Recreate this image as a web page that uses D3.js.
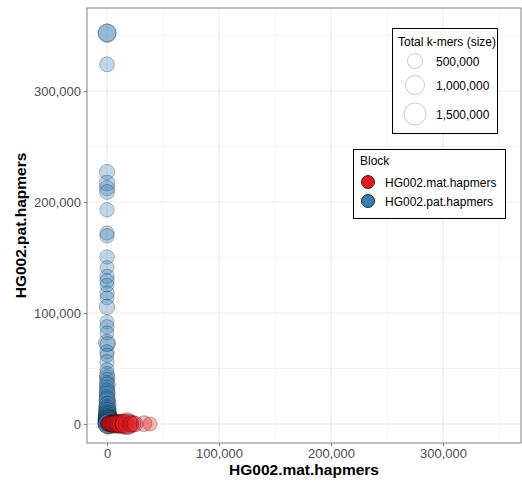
<!DOCTYPE html>
<html><head><meta charset="utf-8">
<script src="https://cdn.jsdelivr.net/npm/d3@7"></script>
<style>body{margin:0;background:#fff;} text{font-family:"Liberation Sans",Arial,sans-serif;}</style>
</head><body><svg id="c" width="522" height="482"></svg>
<script>
// ---- data ----
const blocks = ["HG002.mat.hapmers","HG002.pat.hapmers"];
const blockColors = ["#E41A1C","#377EB8"];
// maternal-block points
const redMat  = [0, 500, 1000, 1500, 2000, 3000, 3500, 4500, 5000, 6000, 7000, 7500, 8500, 9000, 10500, 11000, 12000, 13500, 15000, 16000, 17500, 19000, 21000, 23000, 25000, 33000, 38500];
const redPat  = [0, 300, 600, 800, 200, 300, 700, 500, 100, 200, 400, 0, 600, 300, 0, 400, 200, 100, 300, 0, 300, 0, 0, 100, 0, 300, 0];
const redSize = [250000, 400000, 500000, 500000, 600000, 600000, 700000, 700000, 750000, 800000, 800000, 900000, 850000, 800000, 1000000, 900000, 900000, 1000000, 900000, 1100000, 1500000, 1200000, 700000, 700000, 600000, 600000, 420000];
// paternal-block points
const bluePat  = [352000, 352500, 324000, 227000, 217000, 212500, 209000, 193000, 172000, 169500, 150500, 141000, 133000, 129000, 125000, 118000, 113500, 105500, 92000, 87500, 82000, 73000, 72000, 65000, 62000, 56000, 49000, 45000, 42000, 40000, 37000, 35000, 33000, 30000, 28000, 27000, 24000, 22000, 21000, 18000, 17000, 15000, 13500, 12500, 11000, 10000, 9000, 8000, 7000, 6500, 5500, 5000, 4000, 3500, 3000, 2500, 2000, 1500, 1000, 700, 500, 200, 0];
const blueMat  = [0, 300, 0, 0, 0, 0, 0, 0, 0, 0, 0, 0, 0, 0, 0, 0, 0, 0, 0, 0, 0, 0, 300, 0, 0, 0, 0, 0, 200, 0, 0, 300, 0, 0, 200, 0, 0, 300, 0, 200, 500, 300, 0, 0, 600, 500, 200, 200, 900, 800, 400, 300, 1000, 1400, 500, 1800, 1500, 800, 1200, 2200, 2000, 600, 1000];
const blueSize = [900000, 850000, 500000, 550000, 600000, 550000, 500000, 450000, 450000, 450000, 450000, 400000, 450000, 450000, 400000, 450000, 400000, 550000, 400000, 450000, 400000, 750000, 500000, 450000, 400000, 450000, 400000, 500000, 550000, 450000, 500000, 600000, 450000, 550000, 650000, 500000, 550000, 700000, 600000, 550000, 800000, 650000, 750000, 600000, 900000, 700000, 850000, 750000, 1000000, 800000, 950000, 900000, 1000000, 1200000, 1100000, 1300000, 1200000, 1000000, 1300000, 1400000, 900000, 1100000, 1200000];
const sizeBreaks = [500000, 1000000, 1500000];
const xTicks = [0, 100000, 200000, 300000];
const yTicks = [0, 100000, 200000, 300000];
const minorTicks = [50000, 150000, 250000, 350000];

// ---- layout ----
const svg = d3.select("#c");
const P = {l: 87, r: 521, t: 8, b: 443};
const x = d3.scaleLinear().domain([0, 100000]).range([107, 219]);
x.domain([x.invert(P.l), x.invert(P.r)]).range([P.l, P.r]);
const y = d3.scaleLinear().domain([0, 100000]).range([424, 313]);
y.domain([y.invert(P.b), y.invert(P.t)]).range([P.b, P.t]);
const rLin = d3.scaleLinear().domain([Math.sqrt(500000), Math.sqrt(1500000)]).range([7.5, 11]);
const rs = v => Math.max(2, rLin(Math.sqrt(v)));
const fmt = d3.format(",");

const g = svg.append("g");
// grid
minorTicks.forEach(t => {
  g.append("line").attr("x1", x(t)).attr("x2", x(t)).attr("y1", P.t).attr("y2", P.b).attr("stroke", "#f0f0f0").attr("stroke-width", 0.6);
  g.append("line").attr("y1", y(t)).attr("y2", y(t)).attr("x1", P.l).attr("x2", P.r).attr("stroke", "#f0f0f0").attr("stroke-width", 0.6);
});
xTicks.forEach(t => g.append("line").attr("x1", x(t)).attr("x2", x(t)).attr("y1", P.t).attr("y2", P.b).attr("stroke", "#ebebeb").attr("stroke-width", 1.1));
yTicks.forEach(t => g.append("line").attr("y1", y(t)).attr("y2", y(t)).attr("x1", P.l).attr("x2", P.r).attr("stroke", "#ebebeb").attr("stroke-width", 1.1));

// points
svg.append("clipPath").attr("id","cp").append("rect").attr("x",P.l).attr("y",P.t).attr("width",P.r-P.l).attr("height",P.b-P.t);
const pts = svg.append("g").attr("clip-path","url(#cp)");
const blueData = bluePat.map((p,i) => ({mx: blueMat[i], px: p, s: blueSize[i], c: 1}));
const redData = redMat.map((m,i) => ({mx: m, px: redPat[i], s: redSize[i], c: 0}));
const all = blueData.concat(redData);
pts.selectAll("circle").data(all).join("circle")
  .attr("cx", d => x(d.mx)).attr("cy", d => y(d.px)).attr("r", d => rs(d.s))
  .attr("fill", d => blockColors[d.c]).attr("fill-opacity", 0.32)
  .attr("stroke", "#000").attr("stroke-opacity", 0.3).attr("stroke-width", 0.8);

// panel border
svg.append("rect").attr("x", P.l).attr("y", P.t).attr("width", P.r - P.l).attr("height", P.b - P.t)
  .attr("fill", "none").attr("stroke", "#808080").attr("stroke-width", 1);

// axes
const xa = svg.append("g").attr("transform", `translate(0,${P.b})`)
  .call(d3.axisBottom(x).tickValues(xTicks).tickFormat(fmt).tickSize(3).tickPadding(3));
const ya = svg.append("g").attr("transform", `translate(${P.l},0)`)
  .call(d3.axisLeft(y).tickValues(yTicks).tickFormat(fmt).tickSize(3).tickPadding(3));
[xa, ya].forEach(a => {
  a.select(".domain").remove();
  a.selectAll(".tick line").attr("stroke", "#808080");
  a.selectAll(".tick text").attr("fill", "#4d4d4d").style("font-size", "13px").style("font-family", "'Liberation Sans',Arial,sans-serif");
});

// axis titles
svg.append("text").attr("x", (P.l + P.r) / 2).attr("y", 475).attr("text-anchor", "middle")
  .style("font-size", "15.5px").style("font-weight", "bold").text("HG002.mat.hapmers");
svg.append("text").attr("transform", `translate(26,${(P.t + P.b) / 2}) rotate(-90)`).attr("text-anchor", "middle")
  .style("font-size", "15.5px").style("font-weight", "bold").text("HG002.pat.hapmers");

// size legend
const L1 = svg.append("g");
L1.append("rect").attr("x", 392.5).attr("y", 28.5).attr("width", 105).attr("height", 105).attr("fill", "#fff").attr("stroke", "#000");
L1.append("text").attr("x", 398).attr("y", 46).style("font-size", "12px").text("Total k-mers (size)");
const ly = [61, 85, 114];
sizeBreaks.forEach((b, i) => {
  L1.append("circle").attr("cx", 415).attr("cy", ly[i]).attr("r", rs(b)).attr("fill", "none").attr("stroke", "#bdbdbd").attr("stroke-width", 0.8);
  L1.append("text").attr("x", 436).attr("y", ly[i] + 4.5).style("font-size", "12px").text(fmt(b));
});

// block legend
const L2 = svg.append("g");
L2.append("rect").attr("x", 353.5).attr("y", 149.5).attr("width", 152).attr("height", 69).attr("fill", "#fff").attr("stroke", "#000");
L2.append("text").attr("x", 360).attr("y", 165).style("font-size", "12px").text("Block");
blocks.forEach((b, i) => {
  const cy = 182 + i * 19;
  L2.append("circle").attr("cx", 368).attr("cy", cy).attr("r", 6.5).attr("fill", blockColors[i]).attr("stroke", "#000").attr("stroke-width", 0.8);
  L2.append("text").attr("x", 385).attr("y", cy + 4.5).style("font-size", "12px").text(b);
});
</script></body></html>
